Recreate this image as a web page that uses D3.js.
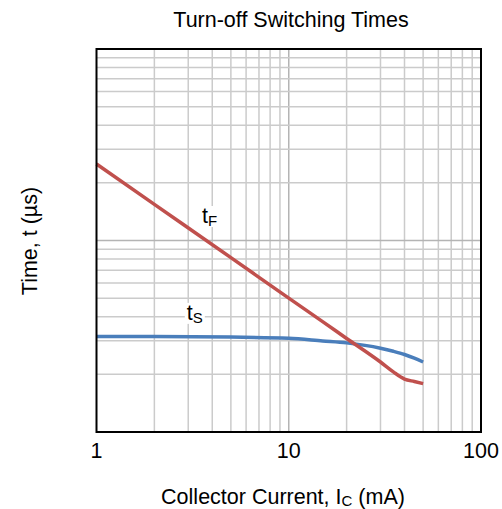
<!DOCTYPE html>
<html>
<head>
<meta charset="utf-8">
<script src="https://cdn.jsdelivr.net/npm/d3@7"></script>
<style>
  html, body { margin: 0; padding: 0; background: #fff; }
  text { font-family: "Liberation Sans", Arial, sans-serif; fill: #000; }
</style>
</head>
<body>
<script>
// ---- data ----
const currentMA = [1, 2, 5, 10, 15, 20, 30, 35, 40, 45, 50];
const tFall    = [0.251, 0.1545, 0.0814, 0.0500, 0.0377, 0.0308, 0.0232, 0.0206, 0.0189, 0.01835, 0.0179];
const tStorage = [0.0315, 0.0315, 0.0313, 0.0309, 0.0299, 0.0292, 0.0274, 0.0264, 0.0254, 0.0243, 0.0232];
const xTickLabels = ["1", "10", "100"];
const xDomain = [1, 100];
const yDomain = [0.01, 1];
const titleText = "Turn-off Switching Times";

// ---- layout ----
const W = 502, H = 509;
const plotLeft = 96.5, plotTop = 49, pw = 384.5, ph = 383;
const FS = 21.5;

const svg = d3.select("body").append("svg").attr("width", W).attr("height", H);

const x = d3.scaleLog().domain(xDomain).range([plotLeft, plotLeft + pw]);
const y = d3.scaleLog().domain(yDomain).range([plotTop + ph, plotTop]);

// grid
const xGrid = [];
for (let d = 1; d < 100; d *= 10) for (let k = 1; k < 10; k++) xGrid.push(d * k);
const yGrid = [];
for (let d = 0.01; d < 0.99; d *= 10) for (let k = 1; k < 10; k++) yGrid.push(+(d * k).toPrecision(3));
const isMajor = d => Math.abs(Math.log10(d) - Math.round(Math.log10(d))) < 1e-9;

const g = svg.append("g");
g.selectAll(".vg").data(xGrid.slice(1)).enter().append("line")
  .attr("x1", d => x(d)).attr("x2", d => x(d))
  .attr("y1", plotTop).attr("y2", plotTop + ph)
  .attr("stroke", d => isMajor(d) ? "#b4b4b4" : "#cbcbcb")
  .attr("stroke-width", 1.5);
g.selectAll(".hg").data(yGrid.slice(1)).enter().append("line")
  .attr("y1", d => y(d)).attr("y2", d => y(d))
  .attr("x1", plotLeft).attr("x2", plotLeft + pw)
  .attr("stroke", d => isMajor(d) ? "#b4b4b4" : "#cbcbcb")
  .attr("stroke-width", 1.5);

const labelGroup = svg.append("g");

// curves
const line = d3.line().x(d => x(d[0])).y(d => y(d[1])).curve(d3.curveMonotoneX);
svg.append("path").datum(currentMA.map((c, i) => [c, tStorage[i]]))
  .attr("d", line).attr("fill", "none").attr("stroke", "#4a7ebb").attr("stroke-width", 3.5);
svg.append("path").datum(currentMA.map((c, i) => [c, tFall[i]]))
  .attr("d", line).attr("fill", "none").attr("stroke", "#c0504d").attr("stroke-width", 3.5);

// curve labels with white backgrounds
function curveLabel(px, py, sub) {
  const t = svg.append("text").attr("x", px).attr("y", py).attr("font-size", FS);
  t.append("tspan").text("t");
  t.append("tspan").attr("font-size", 15).attr("dy", 3).text(sub);
  return t;
}
[[x(3.54), y(0.1234), "F"], [x(2.95), y(0.0385), "S"]].forEach(([px, py, s]) => {
  const t = curveLabel(px, py, s);
  const bb = t.node().getBBox();
  labelGroup.append("rect").attr("x", bb.x - 2).attr("y", bb.y + 2)
    .attr("width", bb.width + 4).attr("height", bb.height - 4).attr("fill", "#fff");
});

// border
svg.append("rect").attr("x", plotLeft).attr("y", plotTop).attr("width", pw).attr("height", ph)
  .attr("fill", "none").attr("stroke", "#000").attr("stroke-width", 2);

// x tick labels
svg.selectAll(".xt").data(xTickLabels).enter().append("text")
  .attr("x", d => x(+d)).attr("y", 458).attr("text-anchor", "middle")
  .attr("font-size", FS).text(d => d);

// title
svg.append("text").attr("x", 291).attr("y", 27).attr("text-anchor", "middle")
  .attr("font-size", FS).text(titleText);

// x axis label
const xl = svg.append("text").attr("x", 283).attr("y", 504).attr("text-anchor", "middle").attr("font-size", FS);
xl.append("tspan").text("Collector Current, I");
xl.append("tspan").attr("font-size", 15).attr("dy", 2).text("C");
xl.append("tspan").attr("dy", -2).text(" (mA)");

// y axis label
svg.append("text").attr("transform", "translate(37,241) rotate(-90)")
  .attr("text-anchor", "middle").attr("font-size", FS).text("Time, t (µs)");
</script>
</body>
</html>
